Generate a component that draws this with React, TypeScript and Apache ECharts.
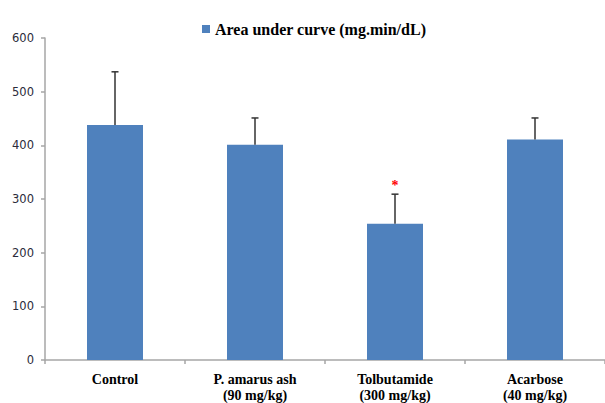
import React, { useEffect, useRef } from 'react';
import * as echarts from 'echarts';

const categories = [
  'Control',
  'P. amarus ash\n(90 mg/kg)',
  'Tolbutamide\n(300 mg/kg)',
  'Acarbose\n(40 mg/kg)',
];
const seriesName = 'Area under curve (mg.min/dL)';
const auc = [438, 401, 254, 411];
const errorUp = [99, 50, 55, 40];
const significance = ['', '', '*', ''];
const yMin = 0;
const yMax = 600;
const yInterval = 100;

export default function App() {
  const ref = useRef<HTMLDivElement>(null);
  useEffect(() => {
    if (!ref.current) return;
    const chart = echarts.init(ref.current, undefined, { renderer: 'svg' });
    const errData = categories.map((_, i) => [i, auc[i] + errorUp[i], auc[i]]);
    chart.setOption({
      animation: false,
      backgroundColor: '#ffffff',
      legend: {
        data: [seriesName],
        left: 197,
        top: 16,
        icon: 'rect',
        itemWidth: 8,
        itemHeight: 8,
        itemGap: 5,
        textStyle: {
          fontFamily: 'Liberation Serif',
          fontWeight: 'bold',
          fontSize: 16,
          color: '#000',
        },
      },
      grid: {
        left: 45,
        right: 0,
        top: 38,
        bottom: 43,
        containLabel: false,
        outerBoundsMode: 'none',
      },
      xAxis: {
        type: 'category',
        data: categories,
        axisLine: { show: true, lineStyle: { color: '#a6a6a6', width: 1.5 } },
        axisTick: { show: true, length: 4, lineStyle: { color: '#a6a6a6', width: 1.5 } },
        axisLabel: {
          interval: 0,
          margin: 12,
          fontFamily: 'Liberation Serif',
          fontWeight: 'bold',
          fontSize: 14,
          lineHeight: 15.5,
          color: '#000',
        },
      },
      yAxis: {
        type: 'value',
        min: yMin,
        max: yMax,
        interval: yInterval,
        splitLine: { show: false },
        axisLine: { show: true, lineStyle: { color: '#a6a6a6', width: 1.5 } },
        axisTick: { show: true, length: 4, lineStyle: { color: '#a6a6a6', width: 1.5 } },
        axisLabel: {
          margin: 11,
          fontFamily: 'DejaVu Sans',
          fontSize: 11.5,
          color: '#2b2b3a',
        },
      },
      series: [
        {
          name: seriesName,
          type: 'bar',
          data: auc,
          barWidth: '40%',
          itemStyle: { color: '#4f81bd' },
        },
        {
          name: 'error',
          type: 'custom',
          data: errData,
          z: 3,
          renderItem: (params: any, api: any) => {
            const top = api.coord([api.value(0), api.value(1)]);
            const base = api.coord([api.value(0), api.value(2)]);
            const sig = significance[params.dataIndex];
            const children: any[] = [
              {
                type: 'line',
                shape: { x1: base[0], y1: base[1], x2: top[0], y2: top[1] },
                style: { stroke: '#333333', lineWidth: 1.5 },
              },
              {
                type: 'line',
                shape: { x1: top[0] - 3.5, y1: top[1], x2: top[0] + 3.5, y2: top[1] },
                style: { stroke: '#333333', lineWidth: 1.5 },
              },
            ];
            if (sig) {
              children.push({
                type: 'text',
                x: top[0],
                y: top[1] - 9,
                style: {
                  text: sig,
                  fill: '#ff0000',
                  font: 'bold 14px "Liberation Serif"',
                  align: 'center',
                  verticalAlign: 'middle',
                },
              });
            }
            return { type: 'group', children };
          },
        },
      ],
    });
    return () => chart.dispose();
  }, []);
  return (
    <div
      ref={ref}
      style={{ position: 'absolute', left: 0, top: 0, width: 605, height: 403 }}
    />
  );
}
